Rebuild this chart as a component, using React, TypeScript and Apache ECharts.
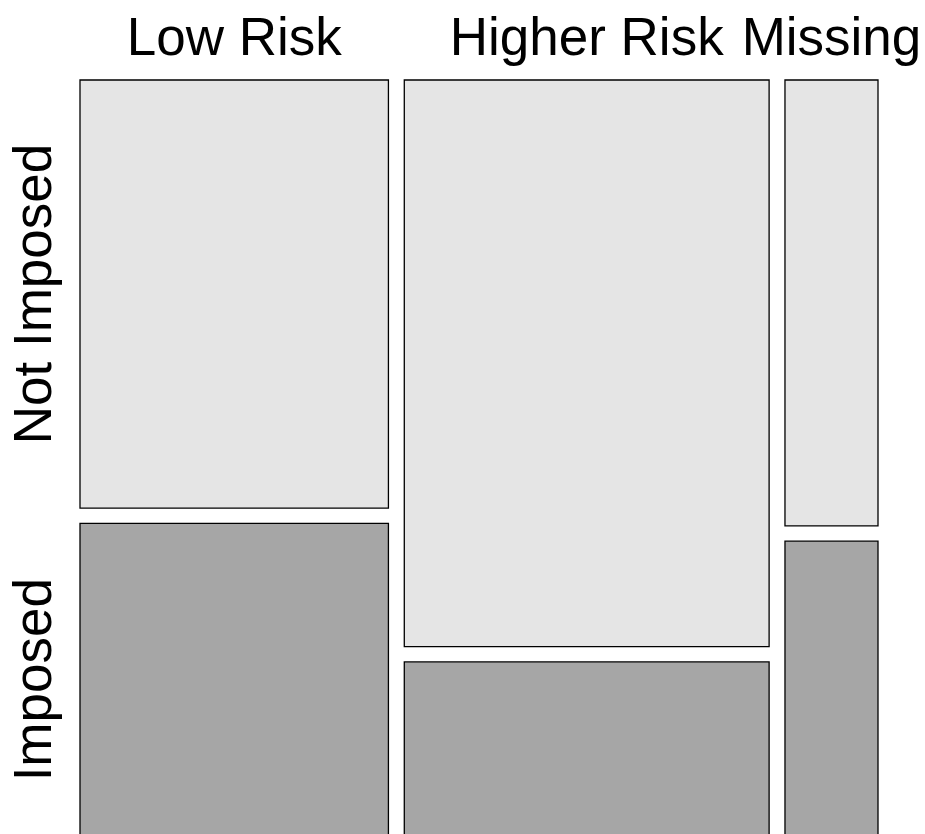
import React, { useEffect, useRef } from "react";
import * as echarts from "echarts";

// Column categories (x) and their share of the total
const columnLabels = ["Low Risk", "Higher Risk", "Missing"];
const columnShares = [0.4025, 0.4761, 0.1214];
// Row categories (y) and, per column, the share of "Not Imposed"
const rowLabels = ["Not Imposed", "Imposed"];
const notImposedShares = [0.578, 0.765, 0.602];

const GAP = 0.0207;
const FILLS = ["#e5e5e5", "#a6a6a6"];
const FONT = "Liberation Sans, Arial, Helvetica, sans-serif";

export default function App() {
  const ref = useRef<HTMLDivElement>(null);

  useEffect(() => {
    if (!ref.current) return;
    const chart = echarts.init(ref.current, null, { renderer: "svg" });

    // build rectangles [x0, x1, y0, y1, rowIndex, colIndex]
    const rects: number[][] = [];
    let x = 0;
    columnShares.forEach((w, ci) => {
      const f = notImposedShares[ci];
      rects.push([x, x + w, 0, f, 0, ci]);
      rects.push([x, x + w, f + GAP, 1 + GAP, 1, ci]);
      x += w + GAP;
    });

    // column label positions (centre of each column)
    const colCentres: number[][] = [];
    x = 0;
    columnShares.forEach((w, ci) => {
      colCentres.push([x + w / 2, ci]);
      x += w + GAP;
    });
    // row label positions (centre of each row in first column)
    const f0 = notImposedShares[0];
    const rowCentres = [
      [f0 / 2, 0],
      [(f0 + GAP + 1 + GAP) / 2, 1],
    ];

    chart.setOption({
      animation: false,
      grid: { left: 80, top: 80, width: 798, height: 756 },
      xAxis: {
        type: "value",
        min: 0,
        max: 1 + 2 * GAP,
        show: false,
      },
      yAxis: {
        type: "value",
        min: 0,
        max: 1 + GAP,
        inverse: true,
        show: false,
      },
      series: [
        {
          type: "custom",
          clip: false,
          data: rects,
          renderItem: (params: any, api: any) => {
            const p0 = api.coord([api.value(0), api.value(2)]);
            const p1 = api.coord([api.value(1), api.value(3)]);
            return {
              type: "rect",
              shape: {
                x: p0[0],
                y: p0[1],
                width: p1[0] - p0[0],
                height: p1[1] - p0[1],
              },
              style: {
                fill: FILLS[api.value(4)],
                stroke: "#000",
                lineWidth: 1.3,
              },
            };
          },
        },
        {
          type: "custom",
          clip: false,
          data: colCentres,
          renderItem: (params: any, api: any) => {
            const p = api.coord([api.value(0), 0]);
            return {
              type: "text",
              x: p[0],
              y: p[1] - 43.5,
              style: {
                text: columnLabels[api.value(1)],
                fontSize: 53,
                fontFamily: FONT,
                fill: "#000",
                align: "center",
                verticalAlign: "middle",
              },
            };
          },
        },
        {
          type: "custom",
          clip: false,
          data: rowCentres,
          renderItem: (params: any, api: any) => {
            const p = api.coord([0, api.value(0)]);
            return {
              type: "text",
              x: p[0] - 47.5,
              y: p[1],
              rotation: Math.PI / 2,
              style: {
                text: rowLabels[api.value(1)],
                fontSize: 53,
                fontFamily: FONT,
                fill: "#000",
                align: "center",
                verticalAlign: "middle",
              },
            };
          },
        },
      ],
    });

    return () => chart.dispose();
  }, []);

  return (
    <div
      ref={ref}
      style={{
        position: "fixed",
        left: 0,
        top: 0,
        width: 925,
        height: 860,
        background: "#fff",
      }}
    />
  );
}
